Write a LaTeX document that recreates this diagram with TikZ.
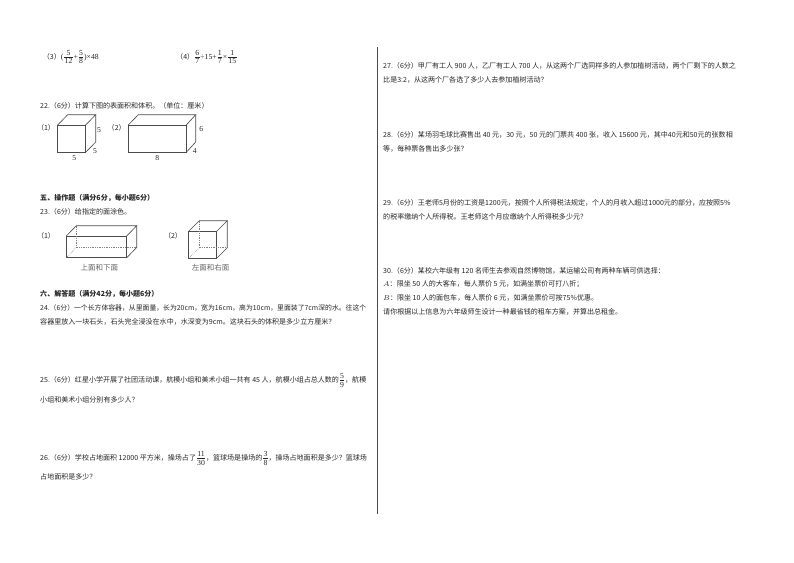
\documentclass[tikz,border=0pt]{standalone}
\usepackage{amsmath}
\usepackage{fontspec}
\setmainfont{Noto Sans CJK SC}
\newfontfamily\numfont{Liberation Serif}
\newcommand{\fr}[2]{\mbox{\kern0.7pt$\vcenter{\offinterlineskip\halign{\hfil\kern0.3pt\numfont\fontsize{6.6}{7}\selectfont##\kern0.3pt\hfil\cr #1\cr\noalign{\vskip1.2pt\hrule height0.42pt\vskip1.2pt}#2\cr}}$\kern0.7pt}}
\tikzstyle{txt} = [anchor=west, inner sep=0pt, text=black!85, font=\fontsize{6}{7}\selectfont]
\tikzstyle{tight} = [txt, font=\fontsize{5.85}{7}\selectfont]
\tikzstyle{head} = [txt, font=\fontsize{6}{7}\selectfont\bfseries]
\tikzstyle{tag} = [inner sep=0pt, text=black!85, font=\fontsize{6}{7}\selectfont]
\tikzstyle{len} = [inner sep=0pt, text=black!85, font=\numfont\fontsize{6.5}{7}\selectfont]
\tikzstyle{facecap} = [inner sep=0pt, text=black!60, font=\fontsize{6.4}{7}\selectfont]
\tikzstyle{edge} = [line width=0.55pt, color=black!70]
\tikzstyle{hid} = [line width=0.5pt, color=black!50, densely dotted]
\begin{document}
\begin{tikzpicture}[x=0.03cm, y=-0.03cm]
\useasboundingbox (0,0) rectangle (794,562);
\fill[white] (0,0) rectangle (794,562);
% column rule
\draw[line width=0.7pt, color=black!70] (377,47) -- (377,514);
% left column
\node[txt] (calc3) at (42.7,57) {（3）{\numfont\fontsize{6.6}{7}\selectfont(\fr{5}{12}+\fr{5}{8})×48}};
\node[txt] (calc4) at (176,57) {（4）{\numfont\fontsize{6.6}{7}\selectfont\fr{6}{7}÷15+\fr{1}{7}×\fr{1}{15}}};
\node[txt] (q22) at (40,105.7) {22.（6分）计算下图的表面积和体积。（单位：厘米）};
\node[tag] (n1) at (46,128) {（1）};
\node[tag] (n2) at (116.7,128) {（2）};
% cube
\draw[edge] (57.7,125) rectangle (85.7,152.3);
\draw[edge] (57.7,125) -- (67.7,114.7) -- (95.7,114.7) -- (85.7,125);
\draw[edge] (95.7,114.7) -- (95.7,142) -- (85.7,152.3);
\node[len] (a1) at (99,130) {5};
\node[len] (a2) at (95,151) {5};
\node[len] (a3) at (74.3,157.7) {5};
% long box
\draw[edge] (128.3,125) rectangle (186.3,152.3);
\draw[edge] (128.3,125) -- (138.3,114.7) -- (195.7,114.7) -- (186.3,125);
\draw[edge] (195.7,114.7) -- (195.7,142) -- (186.3,152.3);
\node[len] (b1) at (201.3,129.3) {6};
\node[len] (b2) at (194.7,151) {4};
\node[len] (b3) at (157.3,157.7) {8};
\node[head] (sec5) at (40,197.7) {五、操作题（满分6分，每小题6分）};
\node[txt] (q23) at (40,212) {23.（6分）给指定的面涂色。};
\node[tag] (n3) at (46,236.3) {（1）};
\node[tag] (n4) at (173,236.3) {（2）};
% box with hidden edges
\draw[edge] (66.3,236) rectangle (126.7,257.7);
\draw[edge] (66.3,236) -- (76.3,225.7) -- (136.7,225.7) -- (126.7,236);
\draw[edge] (136.7,225.7) -- (136.7,247.4) -- (126.7,257.7);
\draw[hid] (76.3,225.7) -- (76.3,247.4) -- (136.7,247.4);
\draw[hid] (76.3,247.4) -- (66.3,257.7);
\node[facecap] (c1) at (99.3,267.7) {上面和下面};
% cube with hidden edges
\draw[edge] (188.7,231.3) rectangle (216.7,258.3);
\draw[edge] (188.7,231.3) -- (199.3,220.7) -- (227.3,220.7) -- (216.7,231.3);
\draw[edge] (227.3,220.7) -- (227.3,247.7) -- (216.7,258.3);
\draw[hid] (199.3,220.7) -- (199.3,247.7) -- (227.3,247.7);
\draw[hid] (199.3,247.7) -- (188.7,258.3);
\node[facecap] (c2) at (210.7,267.7) {左面和右面};
\node[head] (sec6) at (40,294.3) {六、解答题（满分42分，每小题6分）};
\node[tight] (q24a) at (40,307.7) {24.（6分）一个长方体容器，从里面量，长为20cm，宽为16cm，高为10cm，里面装了7cm深的水。往这个};
\node[txt] (q24b) at (40,321.7) {容器里放入一块石头，石头完全浸没在水中，水深变为9cm。这块石头的体积是多少立方厘米？};
\node[txt] (q25a) at (40,380.7) {25.（6分）红星小学开展了社团活动课，航模小组和美术小组一共有 45 人，航模小组占总人数的\fr{5}{9}，航模};
\node[txt] (q25b) at (40,400) {小组和美术小组分别有多少人？};
\node[txt] (q26a) at (40,458.3) {26.（6分）学校占地面积 12000 平方米，操场占了\fr{11}{30}，篮球场是操场的\fr{3}{8}，操场占地面积是多少？篮球场};
\node[txt] (q26b) at (40,476.7) {占地面积是多少？};
% right column
\node[txt] (q27a) at (383,65.7) {27.（6分）甲厂有工人 900 人，乙厂有工人 700 人，从这两个厂选同样多的人参加植树活动，两个厂剩下的人数之};
\node[txt] (q27b) at (383,79.7) {比是3:2，从这两个厂各选了多少人去参加植树活动？};
\node[txt] (q28a) at (383,134.7) {28.（6分）某场羽毛球比赛售出 40 元，30 元，50 元的门票共 400 张，收入 15600 元，其中40元和50元的张数相};
\node[txt] (q28b) at (383,149.3) {等，每种票各售出多少张？};
\node[txt] (q29a) at (383,202.7) {29.（6分）王老师5月份的工资是1200元，按照个人所得税法规定，个人的月收入超过1000元的部分，应按照5\%};
\node[txt] (q29b) at (383,216.7) {的税率缴纳个人所得税。王老师这个月应缴纳个人所得税多少元？};
\node[txt] (q30a) at (383,271) {30.（6分）某校六年级有 120 名师生去参观自然博物馆，某运输公司有两种车辆可供选择：};
\node[txt] (q30b) at (383,284.3) {$A$：限坐 50 人的大客车，每人票价 5 元，如满坐票价可打八折；};
\node[txt] (q30c) at (383,298.3) {$B$：限坐 10 人的面包车，每人票价 6 元，如满坐票价可按75\%优惠。};
\node[txt] (q30d) at (383,311.7) {请你根据以上信息为六年级师生设计一种最省钱的租车方案，并算出总租金。};
\end{tikzpicture}
\end{document}
